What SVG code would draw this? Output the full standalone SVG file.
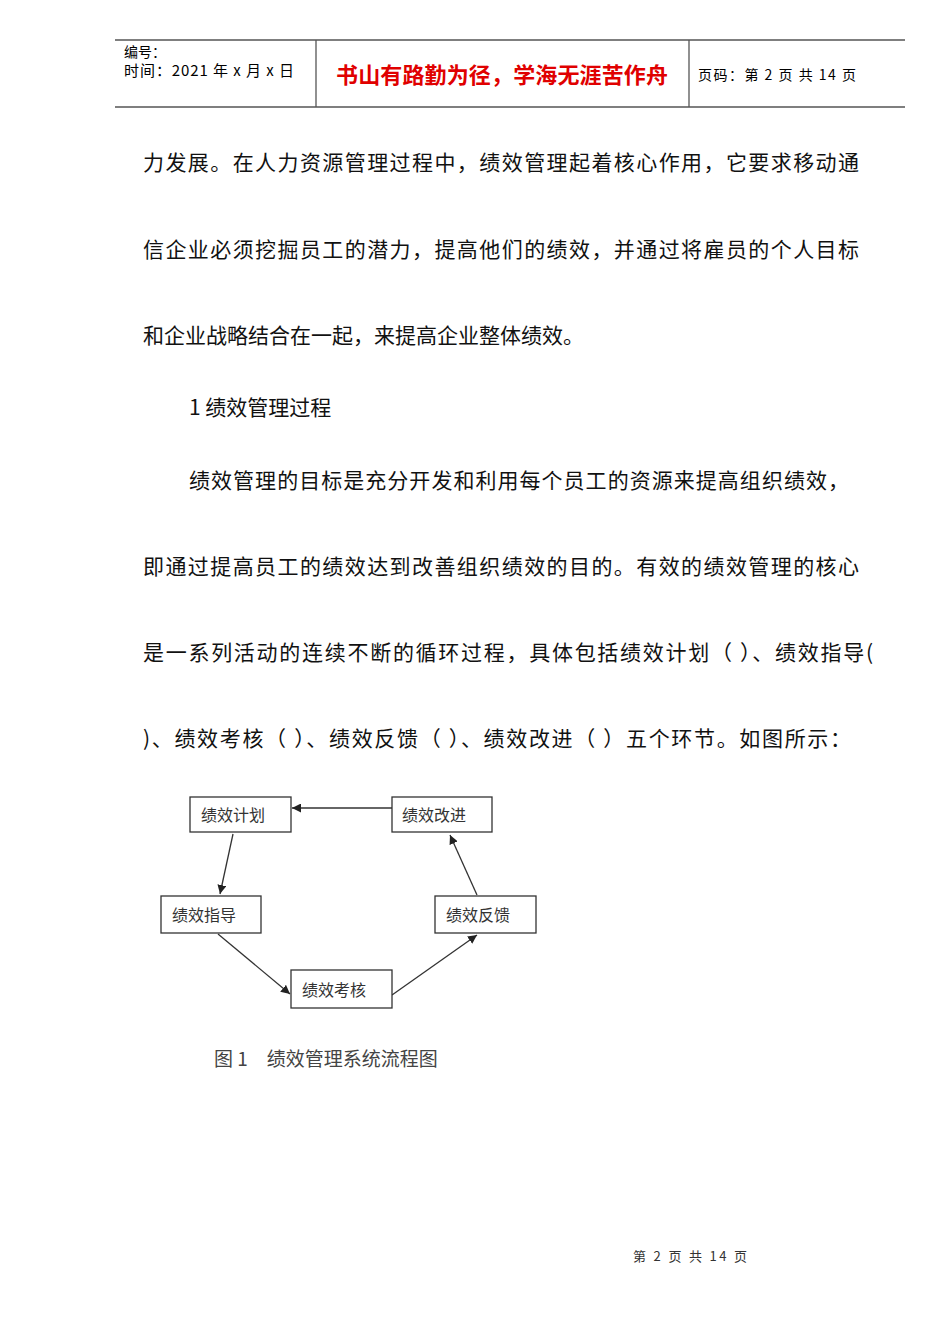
<svg xmlns="http://www.w3.org/2000/svg" width="950" height="1344" viewBox="0 0 950 1344">
<style>
text{font-family:"Noto Sans CJK SC","Liberation Sans",sans-serif}
.b{font-size:21px;fill:#111}
.n rect{fill:#fff;stroke:#333;stroke-width:1.3}
.n text{font-size:16px;fill:#333}
.c line{stroke:#333;stroke-width:1.3;marker-end:url(#a)}
</style>
<defs><marker id="a" viewBox="0 0 10 10" refX="10" refY="5" markerWidth="9" markerHeight="9" orient="auto" markerUnits="userSpaceOnUse"><path d="M0,0L10,5L0,10z" fill="#222"/></marker></defs>
<rect width="950" height="1344" fill="#fff"/>
<g id="header" stroke="#555" stroke-width="1.3">
<line x1="115" y1="40" x2="905" y2="40"/><line x1="115" y1="107" x2="905" y2="107"/>
<line x1="316" y1="40" x2="316" y2="107"/><line x1="689" y1="40" x2="689" y2="107"/>
</g>
<text x="124" y="57" font-size="14">编号：</text>
<text x="124" y="76" font-size="15" textLength="170">时间：2021 年 x 月 x 日</text>
<text x="336" y="83" font-size="22" fill="#e00000" font-weight="bold" textLength="332">书山有路勤为径，学海无涯苦作舟</text>
<text x="698" y="80" font-size="14" textLength="158">页码：第 2 页  共 14 页</text>
<text class="b" x="143" y="170" textLength="716">力发展。在人力资源管理过程中，绩效管理起着核心作用，它要求移动通</text>
<text class="b" x="143" y="257" textLength="716">信企业必须挖掘员工的潜力，提高他们的绩效，并通过将雇员的个人目标</text>
<text class="b" x="143" y="343">和企业战略结合在一起，来提高企业整体绩效。</text>
<text class="b" x="189" y="415">1 绩效管理过程</text>
<text class="b" x="189" y="488" textLength="660">绩效管理的目标是充分开发和利用每个员工的资源来提高组织绩效，</text>
<text class="b" x="143" y="574" textLength="716">即通过提高员工的绩效达到改善组织绩效的目的。有效的绩效管理的核心</text>
<text class="b" x="143" y="660" textLength="730">是一系列活动的连续不断的循环过程，具体包括绩效计划（ ）、绩效指导(</text>
<text class="b" x="143" y="746" textLength="708">)、绩效考核（ ）、绩效反馈（ ）、绩效改进（ ）五个环节。如图所示：</text>
<g class="c">
<line x1="392" y1="808" x2="292" y2="808"/>
<line x1="233" y1="834" x2="220" y2="894"/>
<line x1="218" y1="934" x2="290" y2="994"/>
<line x1="392" y1="995" x2="477" y2="935"/>
<line x1="477" y1="895" x2="450" y2="835"/>
</g>
<g class="n" id="n1"><rect x="190" y="797" width="101" height="35"/><text x="201" y="821">绩效计划</text></g>
<g class="n" id="n2"><rect x="392" y="797" width="100" height="35"/><text x="402" y="821">绩效改进</text></g>
<g class="n" id="n3"><rect x="161" y="896" width="100" height="37"/><text x="172" y="921">绩效指导</text></g>
<g class="n" id="n4"><rect x="435" y="896" width="101" height="37"/><text x="446" y="921">绩效反馈</text></g>
<g class="n" id="n5"><rect x="291" y="970" width="101" height="38"/><text x="302" y="996">绩效考核</text></g>
<text x="214" y="1066" font-size="19" fill="#444">图 1　绩效管理系统流程图</text>
<text x="633" y="1261" font-size="13" fill="#333" textLength="114">第 2 页 共 14 页</text>
</svg>
